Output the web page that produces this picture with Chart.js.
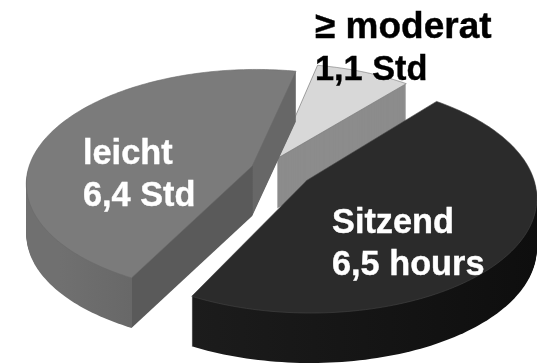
<!DOCTYPE html>
<html>
<head>
<meta charset="utf-8">
<script src="https://cdn.jsdelivr.net/npm/chart.js@4"></script>
<style>
  html, body { margin: 0; padding: 0; background: #fff; }
  canvas { display: block; }
</style>
</head>
<body>
<canvas id="chart" width="537" height="363"></canvas>
<script>
var categories = ['Sitzend', 'leicht', 'moderat'];
var hours = [6.5, 6.4, 1.1];
var labelLines = [['Sitzend', '6,5 hours'], ['leicht', '6,4 Std'], ['\u2265 moderat', '1,1 Std']];

var topColors = ['#2b2b2b', '#7b7b7b', '#d8d8d8'];
var borderColors = ['#444444', '#6a6a6a', '#6e6e6e'];
var textColors = ['#ffffff', '#ffffff', '#000000'];
var labelPos = [[332, 233], [83, 164], [315, 38]];

// exploded slices, moved on the ground plane (radius = 1)
var explode = [[0.097, 0.064], [-0.147, -0.062], [-0.036, -0.132]];

// camera for the tilted pie
var cam = { x: 285, y: 173, sx: 225, sy: 112, k: 0.14, depth: 50 };

function project(u, v, drop) {
    var w = 1 / (1 - cam.k * v);
    return { x: cam.x + cam.sx * u * w, y: cam.y + cam.sy * v * w + drop };
}

// context handed to ArcElement.draw: path calls go through the camera
function tiltedContext(ctx, arc, shift, drop, wallFill) {
    function toScreen(px, py) {
        return project((px - arc.x) / arc.outerRadius + shift[0], (py - arc.y) / arc.outerRadius + shift[1], drop);
    }
    var own = {
        translate: function () {},
        moveTo: function (x, y) { var p = toScreen(x, y); ctx.moveTo(p.x, p.y); },
        lineTo: function (x, y) { var p = toScreen(x, y); ctx.lineTo(p.x, p.y); },
        arc: function (x, y, r, a, b) {
            var steps = 64;
            for (var i = 0; i <= steps; i++) {
                var t = a + (b - a) * i / steps;
                var p = toScreen(x + Math.cos(t) * r, y + Math.sin(t) * r);
                ctx.lineTo(p.x, p.y);
            }
        },
        stroke: function () { if (!wallFill) ctx.stroke(); }
    };
    return new Proxy(ctx, {
        get: function (t, k) {
            if (own[k]) return own[k];
            var v = t[k];
            return typeof v === 'function' ? v.bind(t) : v;
        },
        set: function (t, k, v) {
            t[k] = (k === 'fillStyle' && wallFill) ? wallFill : v;
            return true;
        }
    });
}

// side walls: shade changes at the corners of each slice
function wallFill(ctx, i, arc) {
    var s = explode[i];
    var corner = function (a) { return project(Math.cos(a) + s[0], Math.sin(a) + s[1], 0).x; };
    var g;
    if (i === 0) {
        g = ctx.createLinearGradient(corner(arc.endAngle), 0, 537, 0);
        g.addColorStop(0, '#1c1c1c');
        g.addColorStop(1, '#0e0e0e');
        return g;
    }
    if (i === 1) {
        var left = cam.x - cam.sx;
        var front = corner(arc.startAngle);
        var apex = project(s[0], s[1], 0).x;
        var span = apex + 45 - left;
        g = ctx.createLinearGradient(left, 0, apex + 45, 0);
        g.addColorStop(0, '#707070');
        g.addColorStop((front - left) / span, '#686868');
        g.addColorStop((front + 1 - left) / span, '#5a5a5a');
        g.addColorStop((apex - left) / span, '#5a5a5a');
        g.addColorStop((apex + 1 - left) / span, '#676767');
        g.addColorStop(1, '#676767');
        return g;
    }
    return '#8c8c8c';
}

var tiltedPie = {
    id: 'tiltedPie',
    beforeDatasetsDraw: function (chart) {
        var ctx = chart.ctx;
        var arcs = chart.getDatasetMeta(0).data;
        // back slice first, the big front slice last
        for (var i = arcs.length - 1; i >= 0; i--) {
            var fill = wallFill(ctx, i, arcs[i]);
            for (var d = cam.depth; d > 0; d--) {
                arcs[i].draw(tiltedContext(ctx, arcs[i], explode[i], d, fill));
            }
            arcs[i].draw(tiltedContext(ctx, arcs[i], explode[i], 0, null));
        }
        return false;
    },
    afterDraw: function (chart) {
        var ctx = chart.ctx;
        ctx.save();
        ctx.lineWidth = 0.4;
        labelLines.forEach(function (lines, i) {
            ctx.fillStyle = textColors[i];
            ctx.strokeStyle = textColors[i];
            lines.forEach(function (line, n) {
                // the first line over the small slice is set larger
                var size = (i === 2 && n === 0) ? 37 : 34.3;
                ctx.font = 'bold ' + size + 'px "Liberation Sans", Arial, sans-serif';
                ctx.fillText(line, labelPos[i][0], labelPos[i][1] + n * 42);
                ctx.strokeText(line, labelPos[i][0], labelPos[i][1] + n * 42);
            });
        });
        ctx.restore();
    }
};

new Chart(document.getElementById('chart').getContext('2d'), {
    type: 'pie',
    data: {
        labels: categories,
        datasets: [{
            data: hours,
            backgroundColor: topColors,
            borderColor: borderColors,
            borderWidth: 0.6
        }]
    },
    options: {
        responsive: false,
        animation: false,
        rotation: 40,
        events: [],
        plugins: { legend: { display: false }, tooltip: { enabled: false } }
    },
    plugins: [tiltedPie]
});
</script>
</body>
</html>
